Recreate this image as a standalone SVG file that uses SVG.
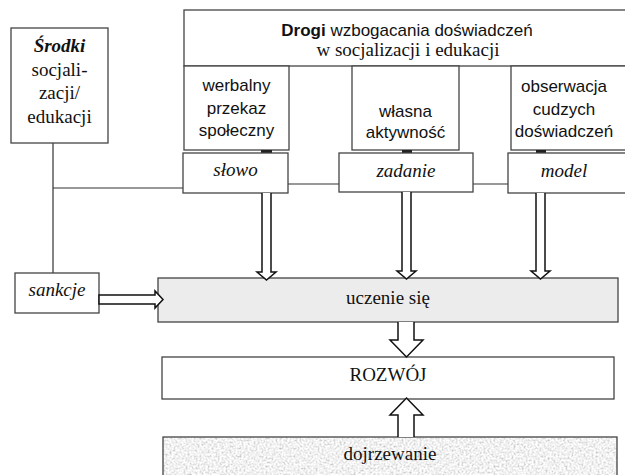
<svg xmlns="http://www.w3.org/2000/svg" width="625" height="475" viewBox="0 0 625 475">
<style>
.box{fill:#fff;stroke:#444;stroke-width:1.3}
.gray{fill:#ececec;stroke:#444;stroke-width:1.3}
.line{fill:none;stroke:#333;stroke-width:1.2}
.arrow{fill:#fff;stroke:#111;stroke-width:1.5;stroke-linejoin:miter}
.tab{fill:#222}
.sans{font-family:"Liberation Sans",Arial,sans-serif;font-size:17px;fill:#111;text-anchor:middle}
.serif{font-family:"Liberation Serif","Times New Roman",serif;font-size:19px;fill:#111;text-anchor:middle}
.it{font-style:italic}
</style>
<defs>
<filter id="grain" x="0" y="0" width="1" height="1" filterUnits="objectBoundingBox">
<feTurbulence type="fractalNoise" baseFrequency="0.5" numOctaves="3" seed="4" result="n"/>
<feColorMatrix in="n" type="matrix" values="0.6 0.6 0 0 0.28  0.6 0.6 0 0 0.28  0.6 0.6 0 0 0.28  0 0 0 0 1" result="g"/>
<feComposite in="g" in2="SourceGraphic" operator="in"/>
</filter>
</defs>

<g id="connectors">
<path class="line" d="M53,143 V273 M53,188 H183 M288,184 H339 M473,184 H508"/>
</g>

<g id="srodki">
<rect class="box" x="11" y="28" width="97" height="115"/>
<text class="serif" x="59.5" y="52" font-weight="bold" font-style="italic">Środki</text>
<text class="serif" x="59.5" y="76">socjali-</text>
<text class="serif" x="59.5" y="99">zacji/</text>
<text class="serif" x="59.5" y="123">edukacji</text>
</g>

<g id="drogi">
<rect class="box" x="184" y="10" width="446" height="56"/>
<text class="sans" x="407" y="36" font-size="17.5"><tspan font-weight="bold">Drogi</tspan> wzbogacania doświadczeń</text>
<text class="serif" x="408" y="56">w socjalizacji i edukacji</text>
</g>

<g id="werbalny">
<rect class="box" x="184" y="66" width="105" height="84"/>
<text class="sans" x="236.5" y="91">werbalny</text>
<text class="sans" x="236.5" y="114">przekaz</text>
<text class="sans" x="236.5" y="136">społeczny</text>
</g>

<g id="wlasna">
<rect class="box" x="352" y="66" width="107" height="84"/>
<text class="sans" x="405.5" y="117">własna</text>
<text class="sans" x="405.5" y="138">aktywność</text>
</g>

<g id="obserwacja">
<rect class="box" x="511" y="66" width="119" height="84"/>
<text class="sans" x="564" y="92">obserwacja</text>
<text class="sans" x="564" y="115">cudzych</text>
<text class="sans" x="564" y="137">doświadczeń</text>
</g>

<g id="tabs">
<rect class="tab" x="261" y="150" width="11" height="3"/>
<rect class="tab" x="402" y="150" width="10" height="3"/>
<rect class="tab" x="536" y="150" width="10" height="3"/>
</g>

<g id="slowo">
<rect class="box" x="183" y="153" width="105" height="40"/>
<text class="serif it" x="235.5" y="176">słowo</text>
</g>

<g id="zadanie">
<rect class="box" x="339" y="153" width="134" height="39"/>
<text class="serif it" x="406" y="177">zadanie</text>
</g>

<g id="model">
<rect class="box" x="508" y="153" width="122" height="40"/>
<text class="serif it" x="564" y="177">model</text>
</g>

<g id="sankcje">
<rect class="box" x="15" y="273" width="84" height="40"/>
<text class="serif it" x="57" y="296">sankcje</text>
</g>

<g id="uczenie">
<rect class="gray" x="158" y="278" width="460" height="44"/>
<text class="serif" x="388" y="304">uczenie się</text>
</g>

<g id="rozwoj">
<rect class="box" x="162" y="357" width="452" height="42"/>
<text class="serif" x="388" y="381">ROZWÓJ</text>
</g>

<g id="dojrzewanie">
<rect x="163" y="437" width="454" height="40" fill="#e4e4e4" filter="url(#grain)"/>
<rect x="163" y="437" width="454" height="40" fill="none" stroke="#444" stroke-width="1.3"/>
<text class="serif" x="390" y="460">dojrzewanie</text>
</g>

<g id="arrows">
<path class="arrow" d="M262,193 V272 H257 L266.5,280 L276,272 H271 V193"/>
<path class="arrow" d="M402,192 V271 H397 L406.5,279 L416,271 H411 V192"/>
<path class="arrow" d="M536,193 V271 H531 L540.5,279 L550,271 H545 V193"/>
<path class="arrow" d="M99,295 H155 V291 L163,299.5 L155,308 V304 H99 Z"/>
<path class="arrow" d="M398,322 V340 H390 L406.5,357 L423,340 H414 V322"/>
<path class="arrow" d="M398,437 V415 H390 L406.5,398 L423,415 H414 V437"/>
</g>
</svg>
